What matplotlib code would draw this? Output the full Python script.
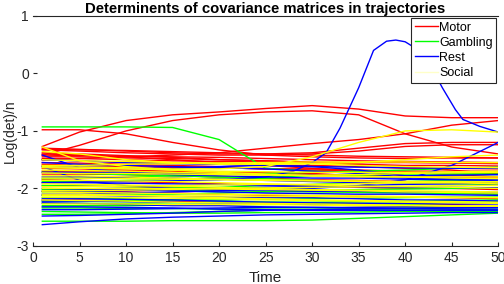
import matplotlib
matplotlib.use('Agg')
import matplotlib.pyplot as plt
from matplotlib.lines import Line2D

plt.rcParams['font.family'] = ['Liberation Sans', 'DejaVu Sans']
plt.rcParams['axes.unicode_minus'] = False

T = [1, 5, 10, 15, 20, 25, 30, 35, 40, 45, 50]

motor = [
    [-0.98, -0.98, -1.05, -1.2, -1.33, -1.42, -1.45, -1.47, -1.48, -1.47, -1.47],
    [-1.27, -1.02, -0.82, -0.72, -0.67, -0.61, -0.56, -0.62, -0.74, -0.77, -0.77],
    [-1.42, -1.25, -1.0, -0.82, -0.72, -0.67, -0.65, -0.72, -1.05, -1.28, -1.4],
    [-1.5, -1.48, -1.45, -1.42, -1.38, -1.3, -1.22, -1.15, -1.05, -0.9, -0.82],
    [-1.3, -1.32, -1.35, -1.38, -1.4, -1.4, -1.38, -1.3, -1.22, -1.2, -1.2],
    [-1.33, -1.35, -1.38, -1.4, -1.42, -1.42, -1.4, -1.35, -1.27, -1.24, -1.24],
    [-1.45, -1.45, -1.47, -1.48, -1.5, -1.52, -1.55, -1.58, -1.62, -1.68, -1.75],
    [-1.5, -1.52, -1.55, -1.55, -1.58, -1.6, -1.6, -1.62, -1.65, -1.65, -1.66],
    [-1.55, -1.56, -1.58, -1.6, -1.62, -1.65, -1.7, -1.72, -1.73, -1.74, -1.75],
    [-1.6, -1.6, -1.62, -1.64, -1.64, -1.66, -1.68, -1.7, -1.72, -1.76, -1.8],
    [-1.65, -1.66, -1.68, -1.7, -1.72, -1.72, -1.74, -1.78, -1.8, -1.82, -1.85],
    [-1.75, -1.75, -1.76, -1.78, -1.8, -1.82, -1.85, -1.86, -1.88, -1.9, -1.92],
    [-1.38, -1.4, -1.43, -1.46, -1.5, -1.52, -1.54, -1.55, -1.55, -1.56, -1.57],
    [-1.85, -1.86, -1.88, -1.9, -1.92, -1.94, -1.96, -1.98, -2.0, -2.0, -2.02],
    [-1.95, -1.96, -1.97, -1.98, -2.0, -2.02, -2.03, -2.05, -2.06, -2.08, -2.1],
    [-2.05, -2.05, -2.06, -2.08, -2.1, -2.12, -2.13, -2.14, -2.15, -2.16, -2.18],
    [-1.4, -1.42, -1.45, -1.5, -1.55, -1.6, -1.65, -1.7, -1.78, -1.86, -1.92],
    [-1.7, -1.7, -1.7, -1.72, -1.74, -1.75, -1.76, -1.78, -1.8, -1.8, -1.82],
    [-1.58, -1.6, -1.6, -1.62, -1.64, -1.66, -1.66, -1.68, -1.7, -1.7, -1.7],
    [-2.2, -2.2, -2.22, -2.22, -2.24, -2.25, -2.26, -2.26, -2.28, -2.28, -2.3],
    [-1.32, -1.33, -1.34, -1.36, -1.38, -1.4, -1.42, -1.44, -1.45, -1.46, -1.47],
    [-1.42, -1.43, -1.44, -1.45, -1.46, -1.48, -1.5, -1.52, -1.53, -1.54, -1.55],
    [-1.48, -1.48, -1.5, -1.52, -1.53, -1.54, -1.56, -1.58, -1.6, -1.6, -1.61],
]

gambling = [
    [-0.93, -0.93, -0.93, -0.94, -1.15, -1.65, -1.7, -1.72, -1.74, -1.75, -1.76],
    [-1.83, -1.82, -1.8, -1.78, -1.76, -1.74, -1.72, -1.7, -1.68, -1.65, -1.63],
    [-1.88, -1.88, -1.86, -1.84, -1.82, -1.8, -1.78, -1.77, -1.75, -1.74, -1.73],
    [-2.06, -2.05, -2.03, -2.0, -1.98, -1.95, -1.93, -1.9, -1.88, -1.86, -1.85],
    [-2.12, -2.12, -2.1, -2.1, -2.08, -2.06, -2.04, -2.02, -2.01, -2.0, -1.99],
    [-2.22, -2.22, -2.21, -2.2, -2.2, -2.19, -2.18, -2.17, -2.16, -2.15, -2.15],
    [-2.3, -2.3, -2.3, -2.29, -2.28, -2.28, -2.27, -2.26, -2.25, -2.24, -2.23],
    [-2.34, -2.34, -2.35, -2.35, -2.36, -2.36, -2.36, -2.35, -2.34, -2.33, -2.32],
    [-2.4, -2.41, -2.42, -2.43, -2.43, -2.42, -2.42, -2.41, -2.4, -2.4, -2.4],
    [-2.57, -2.57, -2.57, -2.56, -2.56, -2.56, -2.55, -2.52, -2.49, -2.46, -2.43],
    [-1.95, -1.96, -1.97, -1.98, -2.0, -2.02, -2.05, -2.07, -2.08, -2.09, -2.1],
    [-2.16, -2.17, -2.18, -2.2, -2.22, -2.24, -2.25, -2.27, -2.28, -2.3, -2.3],
    [-2.45, -2.45, -2.44, -2.42, -2.4, -2.38, -2.37, -2.36, -2.36, -2.36, -2.36],
    [-1.72, -1.74, -1.76, -1.78, -1.8, -1.83, -1.86, -1.88, -1.9, -1.92, -1.93],
    [-2.26, -2.26, -2.26, -2.25, -2.25, -2.24, -2.24, -2.23, -2.22, -2.21, -2.2],
    [-2.02, -2.02, -2.02, -2.03, -2.04, -2.05, -2.06, -2.06, -2.07, -2.07, -2.08],
]

# the one rest trajectory that shoots up past 0
rest_peak_t = [1, 10, 20, 25, 28, 30, 31.5, 33, 35, 36.6, 38, 39, 40, 41.5, 43, 44, 45.4, 46.2, 48, 50]
rest_peak_y = [-1.9, -1.88, -1.85, -1.8, -1.7, -1.55, -1.38, -0.95, -0.25, 0.4, 0.56, 0.58, 0.55, 0.4,
               0.05, -0.25, -0.63, -0.8, -0.92, -1.02]

rest = [
    [-1.42, -1.64, -1.72, -1.76, -1.78, -1.8, -1.82, -1.82, -1.84, -1.85, -1.86],
    [-1.62, -1.86, -1.95, -2.0, -2.02, -2.03, -2.05, -2.05, -2.06, -2.06, -2.07],
    [-2.1, -2.1, -2.08, -2.06, -2.04, -2.02, -2.0, -1.95, -1.85, -1.6, -1.2],
    [-1.5, -1.52, -1.55, -1.57, -1.58, -1.6, -1.62, -1.63, -1.64, -1.65, -1.65],
    [-1.72, -1.72, -1.73, -1.74, -1.75, -1.76, -1.77, -1.8, -1.82, -1.83, -1.84],
    [-1.9, -1.9, -1.91, -1.92, -1.93, -1.95, -1.96, -1.97, -1.98, -1.98, -1.99],
    [-2.0, -2.01, -2.02, -2.04, -2.06, -2.08, -2.09, -2.1, -2.1, -2.11, -2.12],
    [-2.18, -2.18, -2.19, -2.2, -2.22, -2.24, -2.25, -2.26, -2.26, -2.27, -2.27],
    [-2.25, -2.26, -2.28, -2.3, -2.3, -2.32, -2.33, -2.34, -2.35, -2.36, -2.36],
    [-2.32, -2.32, -2.33, -2.34, -2.36, -2.37, -2.38, -2.38, -2.38, -2.38, -2.38],
    [-2.48, -2.47, -2.45, -2.43, -2.4, -2.38, -2.37, -2.36, -2.35, -2.34, -2.33],
    [-2.63, -2.58, -2.53, -2.5, -2.48, -2.46, -2.45, -2.44, -2.43, -2.42, -2.42],
    [-2.37, -2.37, -2.36, -2.35, -2.34, -2.33, -2.33, -2.33, -2.32, -2.32, -2.31],
    [-1.55, -1.58, -1.6, -1.62, -1.64, -1.66, -1.7, -1.74, -1.8, -1.82, -1.85],
    [-2.05, -2.05, -2.04, -2.02, -2.0, -1.98, -1.96, -1.95, -1.93, -1.92, -1.9],
    [-1.62, -1.63, -1.64, -1.65, -1.62, -1.6, -1.62, -1.68, -1.78, -1.77, -1.76],
    [-2.12, -2.12, -2.13, -2.14, -2.15, -2.16, -2.16, -2.18, -2.2, -2.2, -2.22],
    [-1.8, -1.8, -1.81, -1.82, -1.84, -1.86, -1.88, -1.9, -1.9, -1.91, -1.92],
    [-2.22, -2.22, -2.23, -2.24, -2.25, -2.26, -2.28, -2.3, -2.31, -2.32, -2.32],
]

social = [
    [-1.62, -1.63, -1.64, -1.66, -1.66, -1.62, -1.45, -1.2, -1.0, -0.98, -1.02],
    [-1.28, -1.52, -1.62, -1.68, -1.72, -1.75, -1.78, -1.8, -1.8, -1.8, -1.8],
    [-1.36, -1.4, -1.5, -1.55, -1.58, -1.58, -1.57, -1.55, -1.5, -1.45, -1.42],
    [-1.6, -1.6, -1.58, -1.57, -1.56, -1.55, -1.54, -1.54, -1.54, -1.55, -1.55],
    [-1.68, -1.69, -1.7, -1.72, -1.74, -1.76, -1.78, -1.79, -1.8, -1.82, -1.83],
    [-1.78, -1.78, -1.8, -1.82, -1.84, -1.85, -1.86, -1.88, -1.9, -1.9, -1.92],
    [-1.86, -1.86, -1.87, -1.88, -1.9, -1.92, -1.94, -1.96, -1.97, -1.98, -2.0],
    [-1.92, -1.93, -1.94, -1.96, -1.98, -2.0, -2.02, -2.03, -2.04, -2.05, -2.06],
    [-2.0, -2.0, -2.0, -2.0, -2.01, -2.02, -2.03, -2.04, -2.06, -2.07, -2.08],
    [-2.06, -2.07, -2.08, -2.09, -2.1, -2.11, -2.12, -2.13, -2.14, -2.15, -2.16],
    [-2.1, -2.1, -2.12, -2.14, -2.16, -2.18, -2.2, -2.21, -2.22, -2.23, -2.24],
    [-2.15, -2.15, -2.16, -2.17, -2.18, -2.2, -2.21, -2.22, -2.24, -2.25, -2.26],
    [-2.2, -2.21, -2.22, -2.24, -2.25, -2.26, -2.27, -2.28, -2.29, -2.3, -2.3],
    [-2.27, -2.27, -2.27, -2.28, -2.28, -2.28, -2.29, -2.3, -2.3, -2.31, -2.31],
    [-1.73, -1.74, -1.74, -1.75, -1.76, -1.77, -1.77, -1.76, -1.74, -1.73, -1.72],
    [-1.97, -1.97, -1.96, -1.95, -1.94, -1.93, -1.93, -1.92, -1.9, -1.9, -1.88],
    [-2.04, -2.04, -2.03, -2.02, -2.0, -1.99, -1.98, -1.97, -1.96, -1.95, -1.95],
    [-1.5, -1.52, -1.53, -1.55, -1.56, -1.56, -1.57, -1.6, -1.62, -1.63, -1.64],
    [-1.82, -1.82, -1.83, -1.84, -1.85, -1.86, -1.87, -1.87, -1.88, -1.88, -1.89],
    [-2.12, -2.12, -2.12, -2.13, -2.13, -2.14, -2.14, -2.15, -2.15, -2.16, -2.16],
    [-1.64, -1.65, -1.66, -1.68, -1.7, -1.71, -1.72, -1.72, -1.72, -1.71, -1.7],
]

labels = ["Motor", "Gambling", "Rest", "Social"]
colors = ["#ff0000", "#00ff00", "#0000ff", "#ffff00"]

fig = plt.figure(figsize=(5.04, 2.84), dpi=100)
ax = fig.add_axes([0.0655, 0.134, 0.923, 0.81])

lw = 1.0
for y in motor:
    ax.plot(T, y, color=colors[0], lw=lw)
for y in gambling:
    ax.plot(T, y, color=colors[1], lw=lw)
ax.plot(rest_peak_t, rest_peak_y, color=colors[2], lw=lw)
for y in rest:
    ax.plot(T, y, color=colors[2], lw=lw)
for y in social:
    ax.plot(T, y, color=colors[3], lw=lw)

ax.set_xlim(0, 50)
ax.set_ylim(-3, 1)
ax.set_xticks(range(0, 51, 5))
ax.set_yticks([-3, -2, -1, 0, 1])
ax.tick_params(direction='in', length=3, labelsize=10, colors='#262626')
ax.tick_params(axis='y', pad=3)
ax.tick_params(axis='x', pad=4)
ax.spines['left'].set_visible(False)
ax.spines['right'].set_visible(False)
ax.spines['top'].set_color('#262626')
ax.spines['bottom'].set_color('#262626')

ax.set_xlabel("Time", fontsize=11, color='#262626', labelpad=4)
ax.set_ylabel("Log(det)/n", fontsize=10, color='#262626')
ax.yaxis.set_label_coords(-0.0355, 0.5)
ax.set_title("Determinents of covariance matrices in trajectories", fontsize=10.7,
             fontweight='bold', pad=2)

handles = [Line2D([], [], color=c, lw=1) for c in colors[:3]]
handles.append(Line2D([], [], color='#ffffc8', lw=1))
leg = ax.legend(handles, labels, loc='upper right', fontsize=9, frameon=True,
                fancybox=False, framealpha=1, edgecolor='#262626',
                handlelength=1.8, handletextpad=0.1, borderpad=0.3,
                labelspacing=0.25, borderaxespad=0.15)
leg.get_frame().set_linewidth(0.8)

fig.savefig("out.png", dpi=100)
